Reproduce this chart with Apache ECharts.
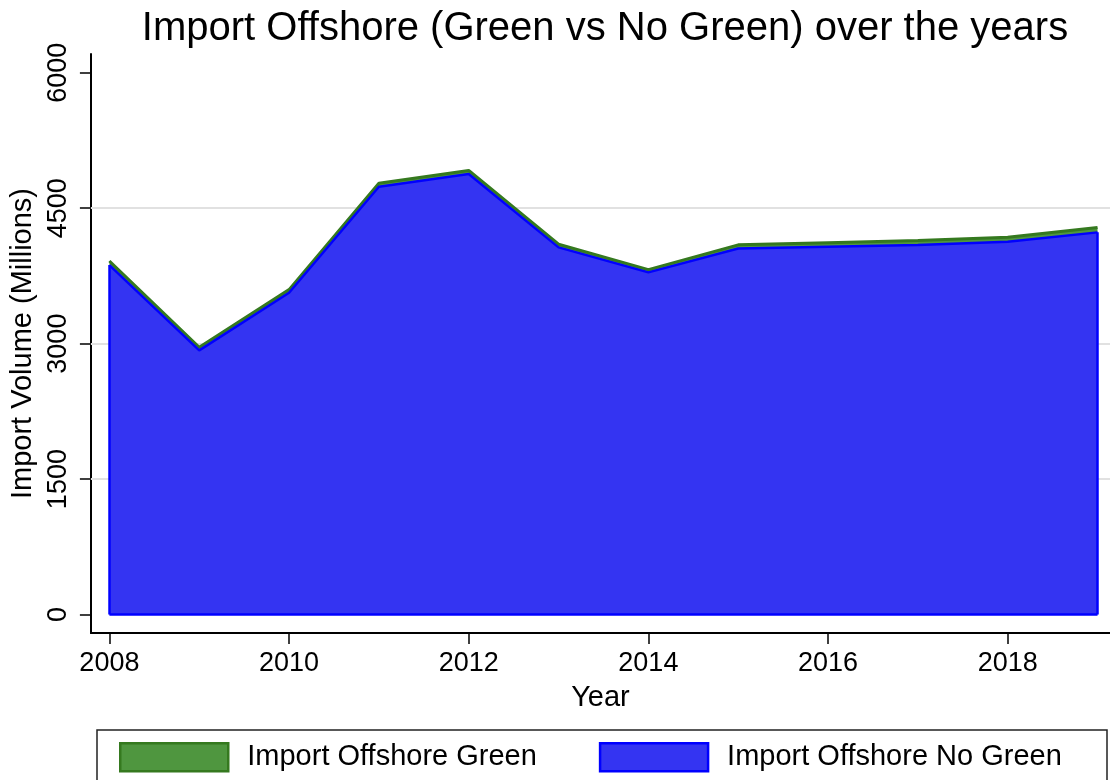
<!DOCTYPE html>
<html>
<head>
<meta charset="utf-8">
<script src="https://cdn.jsdelivr.net/npm/echarts@6/dist/echarts.min.js"></script>
<style>html,body{margin:0;padding:0;background:#fff}#c{width:1110px;height:780px}</style>
</head>
<body>
<div id="c"></div>
<script>
const years = [2008,2009,2010,2011,2012,2013,2014,2015,2016,2017,2018,2019];
const noGreen = [3870,2925,3563,4737,4878,4066,3789,4054,4072,4091,4128,4232];
const green = [45,35,35,40,40,35,30,40,45,50,50,55];
const xTicks = [2008,2010,2012,2014,2016,2018];
const yTicks = [0,1500,3000,4500,6000];
const gridValues = [1500,3000,4500];
const titleText = 'Import Offshore (Green vs No Green) over the years';
const seriesNames = ['Import Offshore Green','Import Offshore No Green'];

const FONT = '"Liberation Sans", Arial, Helvetica, sans-serif';
const BLUE_FILL = '#3434F2', BLUE_LINE = '#0000FF';
const GREEN_FILL = '#4F963F', GREEN_LINE = '#35791F';

const chart = echarts.init(document.getElementById('c'), null, {renderer:'canvas'});
// value first, year second so the stack is applied on the value (y) dimension
const pairsVY = arr => years.map((y,i)=>[arr[i],y]);
const last = years.length-1;

chart.setOption({
  animation:false,
  backgroundColor:'#fff',
  textStyle:{fontFamily:FONT},
  title:{text:titleText,left:600,textAlign:'center',top:4,
    textStyle:{fontFamily:FONT,fontSize:40,fontWeight:'normal',color:'#000'}},
  grid:{left:89,right:0,top:54,bottom:147,containLabel:false},
  xAxis:{type:'value',min:2007.794,max:2019.139,
    name:'Year',nameLocation:'middle',nameGap:50,
    nameTextStyle:{fontFamily:FONT,fontSize:29,color:'#000'},
    axisLine:{show:true,onZero:false,lineStyle:{color:'#000',width:2}},
    axisTick:{show:true,length:11,customValues:xTicks,lineStyle:{color:'#000',width:1.5}},
    axisLabel:{customValues:xTicks,margin:17,fontSize:27,color:'#000',fontFamily:FONT,formatter:v=>String(v)},
    splitLine:{show:false}},
  yAxis:{type:'value',min:-204,max:6207,
    name:'Import Volume (Millions)',nameLocation:'middle',nameGap:49,nameRotate:90,
    nameTextStyle:{fontFamily:FONT,fontSize:29,color:'#000'},
    axisLine:{show:true,onZero:false,lineStyle:{color:'#000',width:2}},
    axisTick:{show:true,length:11,customValues:yTicks,lineStyle:{color:'#000',width:1.5}},
    axisLabel:{customValues:yTicks,rotate:90,margin:19,fontSize:27,color:'#000',fontFamily:FONT,formatter:v=>String(v)},
    splitLine:{show:false}},
  legend:{left:119,top:742,padding:0,itemWidth:108,itemHeight:28,itemGap:62,icon:'rect',
    textStyle:{fontFamily:FONT,fontSize:29,color:'#000',padding:[0,0,0,14]},
    data:[
      {name:seriesNames[0],itemStyle:{color:GREEN_FILL,borderColor:GREEN_LINE,borderWidth:2.5}},
      {name:seriesNames[1],itemStyle:{color:BLUE_FILL,borderColor:BLUE_LINE,borderWidth:2.5}}
    ]},
  graphic:[{type:'rect',shape:{x:97,y:730,width:1010,height:70},
    style:{fill:'none',stroke:'#222',lineWidth:1.5},silent:true}],
  series:[
    {name:'grid',type:'line',data:pairsVY(noGreen),encode:{x:1,y:0},z:1,symbol:'none',silent:true,
      lineStyle:{width:0,opacity:0},
      markLine:{z:1,silent:true,symbol:['none','none'],label:{show:false},
        lineStyle:{color:'#E1E1E1',width:2,type:'solid'},
        data:gridValues.map(v=>({yAxis:v}))}},
    {name:seriesNames[1],type:'line',stack:'total',data:pairsVY(noGreen),encode:{x:1,y:0},z:4,symbol:'none',
      lineStyle:{color:BLUE_LINE,width:2.5},itemStyle:{color:BLUE_FILL},
      areaStyle:{color:BLUE_FILL,opacity:1},
      markLine:{z:5,silent:true,symbol:['none','none'],label:{show:false},
        lineStyle:{color:BLUE_LINE,width:2.5,type:'solid'},
        data:[
          [{coord:[years[0],0]},{coord:[years[last],0]}],
          [{coord:[years[0],0]},{coord:[years[0],noGreen[0]]}],
          [{coord:[years[last],0]},{coord:[years[last],noGreen[last]]}]
        ]}},
    {name:seriesNames[0],type:'line',stack:'total',data:pairsVY(green),encode:{x:1,y:0},z:3,symbol:'none',
      lineStyle:{color:GREEN_LINE,width:3},itemStyle:{color:GREEN_FILL},
      areaStyle:{color:GREEN_FILL,opacity:1}}
  ]
});
</script>
</body>
</html>
